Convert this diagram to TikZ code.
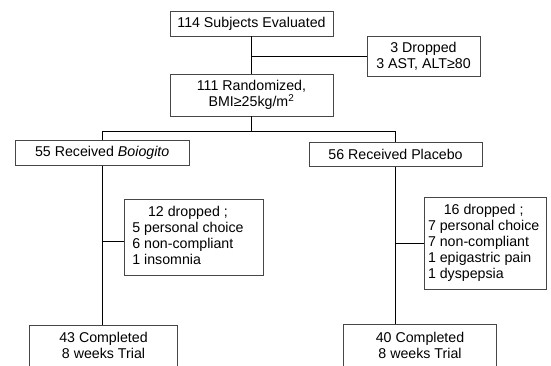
\documentclass[tikz,border=0pt]{standalone}
\usepackage{fontspec}
\setmainfont{Liberation Sans}
\begin{document}
\begin{tikzpicture}[x=1pt,y=-1pt,
  box/.style={draw=black!72, line width=0.8pt, inner sep=0pt, align=center, font=\fontsize{14.2}{16}\selectfont},
  conn/.style={draw=black, line width=1pt}]
\useasboundingbox (0,0) rectangle (551,365);
\clip (0,0) rectangle (551,365);
\node[box, minimum width=163pt, minimum height=25pt] (eval) at (251.5,23.5) {114 Subjects Evaluated};
\node[box, minimum width=113pt, minimum height=40pt] (drop) at (423.5,56) {3 Dropped\\3 AST, ALT≥80};
\node[box, minimum width=163pt, minimum height=42pt] (rand) at (251.5,95) {111 Randomized,\\BMI≥25kg/m\textsuperscript{2}};
\node[box, minimum width=174.3pt, minimum height=24.6pt] (recvA) at (102.2,153) {55 Received \textit{Boiogito}};
\node[box, minimum width=173pt, minimum height=24.4pt] (recvB) at (395.5,154.5) {56 Received Placebo};
\node[box, minimum width=139pt, minimum height=76pt] (dropA) at (193.8,237.3)
  {\makebox[123pt][l]{\begin{tabular}{@{}l@{}}\multicolumn{1}{@{}c@{}}{12 dropped ;}\\5 personal choice\\6 non-compliant\\1 insomnia\end{tabular}}};
\node[box, minimum width=122pt, minimum height=92pt] (dropB) at (485,243)
  {\makebox[114pt][l]{\begin{tabular}{@{}l@{}}\multicolumn{1}{@{}c@{}}{16 dropped ;}\\7 personal choice\\7 non-compliant\\1 epigastric pain\\1 dyspepsia\end{tabular}}};
\node[box, minimum width=148.4pt, minimum height=56pt] (compA) at (103.5,353.3) {43 Completed\\8 weeks Trial\\\mbox{}};
\node[box, minimum width=153.4pt, minimum height=58pt] (compB) at (420,353.3) {40 Completed\\8 weeks Trial\\\mbox{}};
\draw[conn] (eval.south) -- (rand.north);
\draw[conn] (drop.west) -- (drop.west -| eval.south);
\coordinate (split) at (251.5,131);
\draw[conn] (rand.south) -- (split);
\draw[conn] (recvA.north) -- (recvA.north |- split) -- (recvB.north |- split) -- (recvB.north);
\draw[conn] (recvA.south) -- (recvA.south |- compA.north);
\coordinate (tapA) at (0,241.3);
\draw[conn] (recvA.south |- tapA) -- (dropA.west |- tapA);
\draw[conn] (recvB.south) -- (recvB.south |- compB.north);
\draw[conn] (recvB.south |- dropB.west) -- (dropB.west);
\end{tikzpicture}
\end{document}
